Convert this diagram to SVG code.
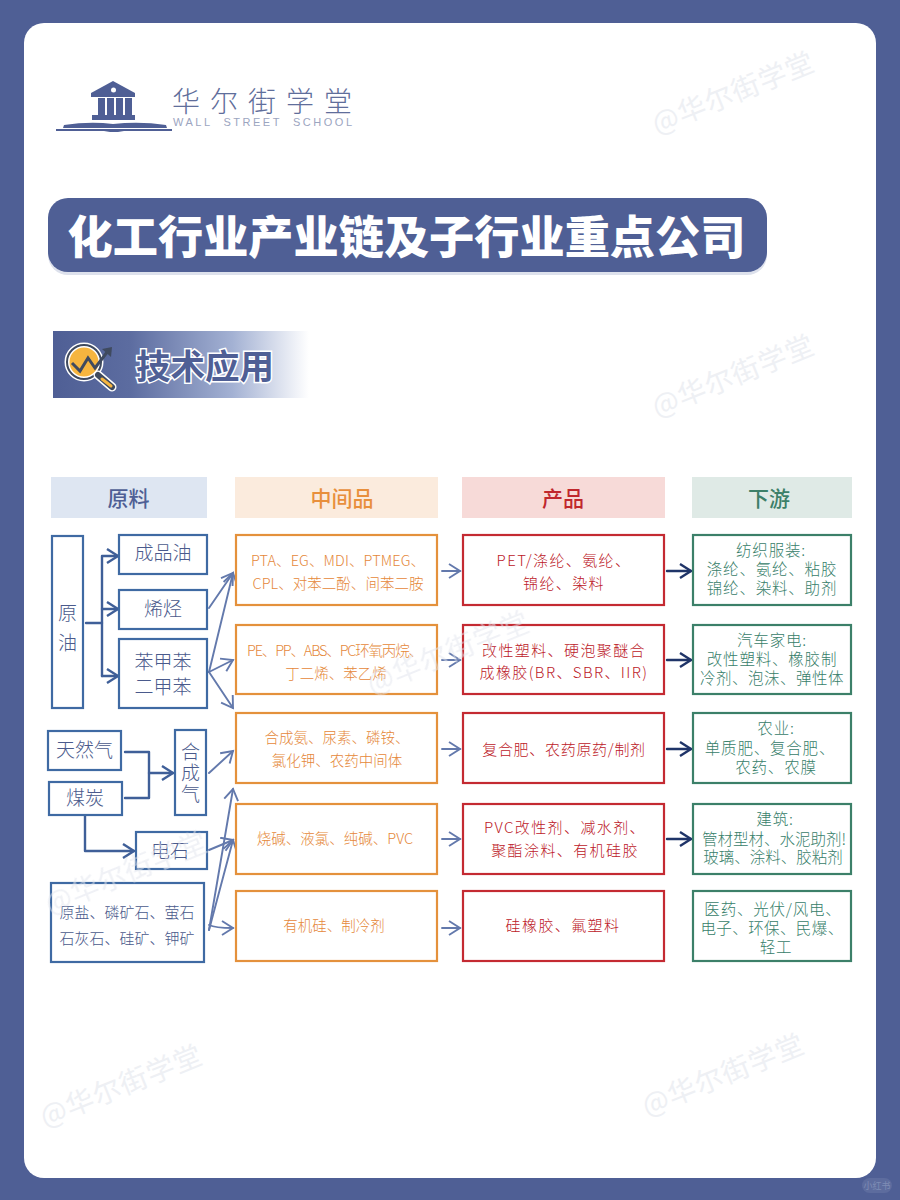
<svg xmlns="http://www.w3.org/2000/svg" width="900" height="1200" viewBox="0 0 900 1200">
<style>
text{font-family:"Noto Sans CJK SC","Liberation Sans",sans-serif;text-anchor:middle}
.b{fill:#fff;stroke-width:2.2}
.bl{stroke:#3F6AA3}.or{stroke:#E4913C}.rd{stroke:#C42A32}.gr{stroke:#3C8069}
.tb{font-size:19px;fill:#4A5A8C;font-weight:300}
.tm{font-size:14.5px;fill:#E5883A;font-weight:300}
.tr{font-size:15px;fill:#BC2028;letter-spacing:1.4px;font-weight:300}
.tg{font-size:15.5px;fill:#37806A;letter-spacing:.8px;font-weight:300}
.ts{font-size:15px;fill:#4A5A8C;font-weight:300}
.h{font-size:21px;font-weight:500}
.wm{font-size:28px;fill:#EEF0F4;letter-spacing:1px}
.c{fill:none;stroke-linecap:round;stroke-linejoin:round}
.c1{stroke:#3F5F98;stroke-width:2.4}
.c2{stroke:#6379AC;stroke-width:1.9}
.c3{stroke:#1F3468;stroke-width:2.4}
</style>
<defs>
<marker id="a1" markerUnits="userSpaceOnUse" markerWidth="18" markerHeight="18" refX="14" refY="8" orient="auto"><path d="M3 1L14 8L3 15" fill="none" stroke="#3F5F98" stroke-width="2.4"/></marker>
<marker id="a2" markerUnits="userSpaceOnUse" markerWidth="18" markerHeight="18" refX="14" refY="8" orient="auto"><path d="M3 1L14 8L3 15" fill="none" stroke="#6379AC" stroke-width="1.9"/></marker>
<marker id="a3" markerUnits="userSpaceOnUse" markerWidth="18" markerHeight="18" refX="14" refY="8" orient="auto"><path d="M3 1L14 8L3 15" fill="none" stroke="#1F3468" stroke-width="2.4"/></marker>
<linearGradient id="g" x1="0" x2="1" y1="0" y2="0"><stop offset="0" stop-color="#4F5F95"/><stop offset=".3" stop-color="#5C6CA0"/><stop offset=".7" stop-color="#A3B1D3"/><stop offset="1" stop-color="#fff"/></linearGradient>
</defs>
<rect width="900" height="1200" fill="#4F5F95"/>
<rect x="24" y="23" width="852" height="1155" rx="20" fill="#fff"/>
<rect x="862" y="1178" width="30" height="15" rx="7.500" fill="#5D6C9E"/>
<text x="877" y="1189" style="font-size:9px;fill:#7F8CB5">小红书</text>
<g id="watermarks">
<text class="wm" transform="translate(737 102) rotate(-22)">@华尔街学堂</text>
<text class="wm" transform="translate(737 385) rotate(-22)">@华尔街学堂</text>
<text class="wm" transform="translate(125 1095) rotate(-22)">@华尔街学堂</text>
<text class="wm" transform="translate(727 1084) rotate(-22)">@华尔街学堂</text>
</g>
<g id="logo">
<path d="M113 81L135 93V97H91V93Z" fill="#4F5F95"/>
<circle cx="113.500" cy="90" r="2.500" fill="#fff"/>
<rect x="98" y="98" width="7" height="17" fill="#4F5F95"/><rect x="107" y="98" width="7" height="17" fill="#4F5F95"/><rect x="116" y="98" width="7" height="17" fill="#4F5F95"/><rect x="125" y="98" width="7" height="17" fill="#4F5F95"/>
<rect x="92" y="115" width="43" height="5" fill="#4F5F95"/>
<path d="M64 125Q90 121 113 124Q140 121 166 125L167 128H63Z" fill="#4F5F95"/>
<rect x="56" y="129" width="116" height="2" fill="#4F5F95"/>
<path d="M104 131H124L118 132H110Z" fill="#4F5F95"/>
<text x="267" y="112" style="font-size:28px;font-weight:300;fill:#5F6E9B;letter-spacing:10px">华尔街学堂</text>
<text x="262.500" y="126" style="font-size:11px;fill:#9CA5BF;font-family:'Liberation Sans',sans-serif" xml:space="preserve" textLength="179">WALL  STREET  SCHOOL</text>
</g>
<g id="title">
<rect x="48" y="200" width="719" height="75" rx="20" fill="#DDE1EC"/>
<rect x="48" y="198" width="719" height="74" rx="20" fill="#4F5F95"/>
<text x="406.500" y="254" style="font-size:45.200px;font-weight:900;fill:#fff">化工行业产业链及子行业重点公司</text>
</g>
<g id="section">
<rect x="53" y="331" width="256" height="67" fill="url(#g)"/>
<circle cx="84" cy="362" r="17" fill="#F6B53F" stroke="#fff" stroke-width="5"/>
<circle cx="84" cy="362" r="17" fill="none" stroke="#3F4A5F" stroke-width="2"/>
<path d="M98 375L112 387" stroke="#fff" stroke-width="9" stroke-linecap="round"/>
<path d="M98 375L112 387" stroke="#3F4A5F" stroke-width="6" stroke-linecap="round"/>
<path d="M102 379L111 386" stroke="#F6B53F" stroke-width="3" stroke-linecap="round"/>
<path d="M72 363L80 371L88 358L95 368L108 351" fill="none" stroke="#3F4A5F" stroke-width="3"/>
<path d="M102 349L112 347L111 357Z" fill="#3F4A5F"/>
<text x="205" y="379" style="font-size:34.500px;font-weight:700;fill:#4F5F95;stroke:#fff;stroke-width:3;paint-order:stroke">技术应用</text>
</g>
<g id="headers">
<g id="h1"><rect x="51" y="477" width="156" height="41" fill="#DEE6F2"/><text class="h" x="128.500" y="506" fill="#4F5F95">原料</text></g>
<g id="h2"><rect x="235" y="477" width="203" height="41" fill="#FBEBDD"/><text class="h" x="342" y="506" fill="#E88F3C">中间品</text></g>
<g id="h3"><rect x="462" y="477" width="203" height="41" fill="#F7DAD8"/><text class="h" x="563" y="506" fill="#C0272D">产品</text></g>
<g id="h4"><rect x="692" y="477" width="160" height="41" fill="#DFEAE6"/><text class="h" x="769" y="506" fill="#3C8069">下游</text></g>
</g>
<g id="connectors">
<path class="c c1" d="M86 623H102"/>
<path class="c c1" d="M102 676V556H118" marker-end="url(#a1)"/>
<path class="c c1" d="M102 609H118" marker-end="url(#a1)"/>
<path class="c c1" d="M102 676H118" marker-end="url(#a1)"/>
<path class="c c2" d="M209 608L233 573" marker-end="url(#a2)"/>
<path class="c c2" d="M209 672L233 573" marker-end="url(#a2)"/>
<path class="c c2" d="M209 672L233 660" marker-end="url(#a2)"/>
<path class="c c2" d="M209 672L233 708" marker-end="url(#a2)"/>
<path class="c c2" d="M209 773L233 751" marker-end="url(#a2)"/>
<path class="c c2" d="M209 850L233 840" marker-end="url(#a2)"/>
<path class="c c2" d="M209 930L233 789" marker-end="url(#a2)"/>
<path class="c c2" d="M209 930L233 840" marker-end="url(#a2)"/>
<path class="c c2" d="M209 925Q215 928 233 928" marker-end="url(#a2)"/>
<path class="c c1" d="M125 752H149V798H125"/>
<path class="c c1" d="M149 773H173" marker-end="url(#a1)"/>
<path class="c c1" d="M85 816V851H134" marker-end="url(#a1)"/>
<path class="c c2" d="M442 571H460" marker-end="url(#a2)"/>
<path class="c c2" d="M442 660H460" marker-end="url(#a2)"/>
<path class="c c2" d="M442 749H460" marker-end="url(#a2)"/>
<path class="c c2" d="M442 839H460" marker-end="url(#a2)"/>
<path class="c c2" d="M442 928H460" marker-end="url(#a2)"/>
<path class="c c3" d="M667 571H691" marker-end="url(#a3)"/>
<path class="c c3" d="M667 660H691" marker-end="url(#a3)"/>
<path class="c c3" d="M667 749H691" marker-end="url(#a3)"/>
<path class="c c3" d="M667 839H691" marker-end="url(#a3)"/>
</g>
<g id="n-crude"><rect class="b bl" x="52" y="536" width="31" height="172"/><text class="tb" x="67.500" y="620">原</text><text class="tb" x="67.500" y="650">油</text></g>
<g id="n-oil"><rect class="b bl" x="119" y="535" width="88" height="39"/><text class="tb" x="163" y="560">成品油</text></g>
<g id="n-olefin"><rect class="b bl" x="119" y="590" width="88" height="39"/><text class="tb" x="163" y="616">烯烃</text></g>
<g id="n-bz"><rect class="b bl" x="119" y="639" width="88" height="69"/><text class="tb" x="163" y="669">苯甲苯</text><text class="tb" x="163" y="694">二甲苯</text></g>
<g id="n-gas"><rect class="b bl" x="48" y="731" width="73" height="39"/><text class="tb" x="84.500" y="757">天然气</text></g>
<g id="n-coal"><rect class="b bl" x="49" y="782" width="73" height="33"/><text class="tb" x="85" y="805">煤炭</text></g>
<g id="n-syngas"><rect class="b bl" x="175" y="730" width="31" height="85"/><text class="tb" x="190.500" y="759"><tspan x="190.500">合</tspan><tspan x="190.500" dy="21">成</tspan><tspan x="190.500" dy="21">气</tspan></text></g>
<g id="n-carbide"><rect class="b bl" x="136" y="832" width="71" height="37"/><text class="tb" x="170" y="858">电石</text></g>
<g id="n-mineral"><rect class="b bl" x="51" y="883" width="153" height="79"/><text class="ts" x="127" y="918">原盐、磷矿石、萤石</text><text class="ts" x="127" y="944">石灰石、硅矿、钾矿</text></g>
<g id="n-m1"><rect class="b or" x="236" y="535" width="201" height="70"/><text class="tm" x="338" y="566" textLength="174">PTA、EG、MDI、PTMEG、</text><text class="tm" x="338" y="589" textLength="171">CPL、对苯二酚、间苯二胺</text></g>
<g id="n-m2"><rect class="b or" x="236" y="625" width="201" height="69"/><text class="tm" x="335" y="656" textLength="176">PE、PP、ABS、PC环氧丙烷、</text><text class="tm" x="336" y="679">丁二烯、苯乙烯</text></g>
<g id="n-m3"><rect class="b or" x="236" y="713" width="201" height="70"/><text class="tm" x="337" y="743">合成氨、尿素、磷铵、</text><text class="tm" x="337" y="766">氯化钾、农药中间体</text></g>
<g id="n-m4"><rect class="b or" x="236" y="804" width="201" height="70"/><text class="tm" x="335" y="844">烧碱、液氯、纯碱、PVC</text></g>
<g id="n-m5"><rect class="b or" x="236" y="891" width="201" height="70"/><text class="tm" x="334" y="931">有机硅、制冷剂</text></g>
<g id="n-p1"><rect class="b rd" x="463" y="535" width="201" height="70"/><text class="tr" x="564" y="566">PET/涤纶、氨纶、</text><text class="tr" x="564" y="589">锦纶、染料</text></g>
<g id="n-p2"><rect class="b rd" x="463" y="625" width="201" height="69"/><text class="tr" x="564" y="656">改性塑料、硬泡聚醚合</text><text class="tr" x="564" y="678">成橡胶(BR、SBR、IIR)</text></g>
<g id="n-p3"><rect class="b rd" x="463" y="713" width="201" height="70"/><text class="tr" x="564" y="755" style="letter-spacing:.7px">复合肥、农药原药/制剂</text></g>
<g id="n-p4"><rect class="b rd" x="463" y="804" width="201" height="70"/><text class="tr" x="565" y="833">PVC改性剂、减水剂、</text><text class="tr" x="565" y="856">聚酯涂料、有机硅胶</text></g>
<g id="n-p5"><rect class="b rd" x="463" y="891" width="201" height="70"/><text class="tr" x="563" y="931">硅橡胶、氟塑料</text></g>
<g id="n-d1"><rect class="b gr" x="693" y="535" width="158" height="70"/><text class="tg" x="771" y="556">纺织服装:</text><text class="tg" x="772" y="575">涤纶、氨纶、粘胶</text><text class="tg" x="772" y="594">锦纶、染料、助剂</text></g>
<g id="n-d2"><rect class="b gr" x="693" y="625" width="158" height="69"/><text class="tg" x="772" y="646">汽车家电:</text><text class="tg" x="772" y="665">改性塑料、橡胶制</text><text class="tg" x="772" y="684" style="letter-spacing:.5px">冷剂、泡沫、弹性体</text></g>
<g id="n-d3"><rect class="b gr" x="693" y="713" width="158" height="70"/><text class="tg" x="776" y="734">农业:</text><text class="tg" x="770" y="754">单质肥、复合肥、</text><text class="tg" x="776" y="773">农药、农膜</text></g>
<g id="n-d4"><rect class="b gr" x="693" y="804" width="158" height="70"/><text class="tg" x="775" y="825">建筑:</text><text class="tg" x="774" y="845" style="letter-spacing:0">管材型材、水泥助剂!</text><text class="tg" x="773" y="863" style="letter-spacing:0">玻璃、涂料、胶粘剂</text></g>
<g id="n-d5"><rect class="b gr" x="693" y="891" width="158" height="70"/><text class="tg" x="773" y="915">医药、光伏/风电、</text><text class="tg" x="772" y="934" style="letter-spacing:.4px">电子、环保、民爆、</text><text class="tg" x="776" y="953">轻工</text></g>
<g id="watermarks-over" opacity=".55">
<text class="wm" style="fill:#E3E6EE" transform="translate(452 662) rotate(-22)">@华尔街学堂</text>
<text class="wm" style="fill:#E3E6EE" transform="translate(130 882) rotate(-22)">@华尔街学堂</text>
</g>
</svg>
